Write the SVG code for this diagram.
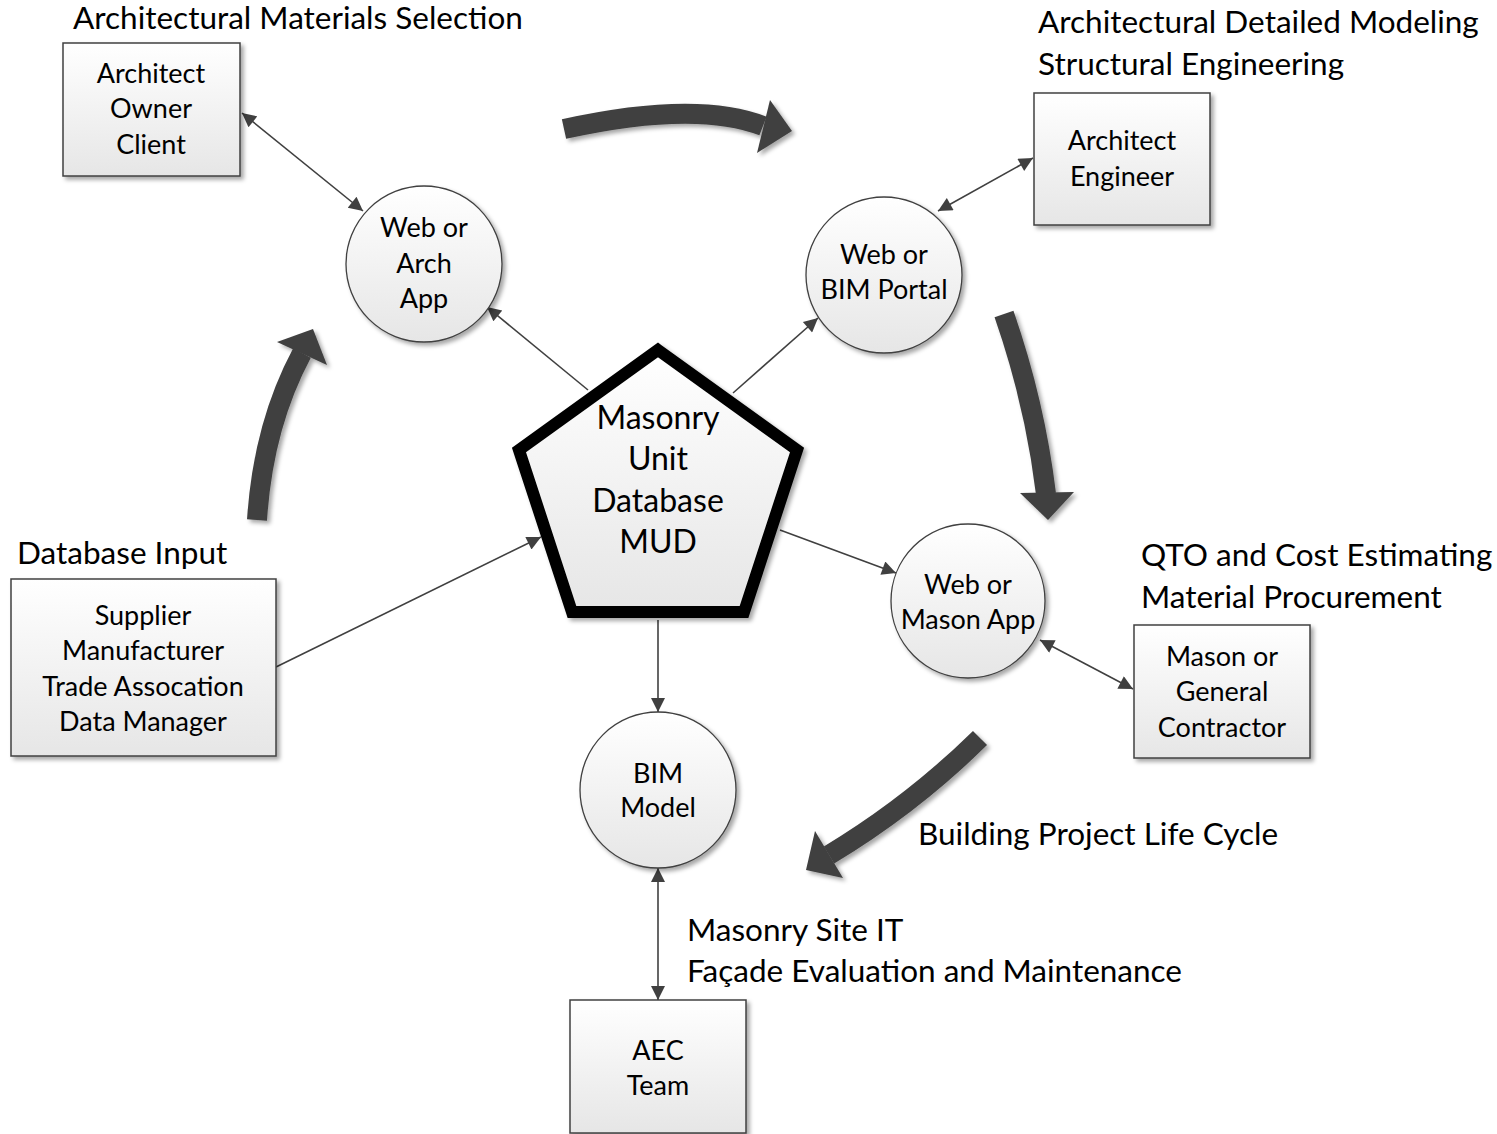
<svg xmlns="http://www.w3.org/2000/svg" width="1497" height="1134" viewBox="0 0 1497 1134">
<defs>
  <linearGradient id="g" x1="0" y1="0" x2="0" y2="1">
    <stop offset="0" stop-color="#ffffff"/>
    <stop offset="1" stop-color="#e6e6e6"/>
  </linearGradient>
  <filter id="sh" x="-20%" y="-20%" width="140%" height="140%">
    <feDropShadow dx="3" dy="3" stdDeviation="2" flood-color="#000" flood-opacity="0.35"/>
  </filter>
  <marker id="ahs" viewBox="0 0 10 10" refX="10" refY="5" markerWidth="16" markerHeight="14" markerUnits="userSpaceOnUse" orient="auto-start-reverse">
    <path d="M0,0 L10,5 L0,10 Z" fill="#404040"/>
  </marker>
</defs>
<style>
  .box{fill:url(#g);stroke:#404040;stroke-width:1.5;filter:url(#sh)}
  .cir{fill:url(#g);stroke:#404040;stroke-width:1.3;filter:url(#sh)}
  .t{font-family:Lato,"Liberation Sans",sans-serif;font-size:27px;fill:#000;text-anchor:middle}
  .pt{font-family:Lato,"Liberation Sans",sans-serif;font-size:32px;fill:#000;text-anchor:middle}
  .h{font-family:Lato,"Liberation Sans",sans-serif;font-size:31.5px;fill:#000}
  .c{stroke:#404040;stroke-width:1.6;fill:none}
  .big path.b{fill:none;stroke:#404040;stroke-width:20}
  .big path.hd{fill:#404040}
</style>

<g id="big-arrows" class="big">
  <g filter="url(#sh)"><path class="b" d="M564,129 Q696,100 763,126"/><path class="hd" d="M770,100 L792,131 L757,153 Z"/></g>
  <g filter="url(#sh)"><path class="b" d="M1004,314 Q1035,403 1046,494"/><path class="hd" d="M1020,493 L1074,492 L1048,520 Z"/></g>
  <g filter="url(#sh)"><path class="b" d="M980,738 Q912,805 829,855"/><path class="hd" d="M815,831 L843,878 L806,870 Z"/></g>
  <g filter="url(#sh)"><path class="b" d="M257,520 Q263,426 302,353"/><path class="hd" d="M277,342 L313,329 L327,365 Z"/></g>
</g>

<g id="connectors">
  <line class="c" x1="242" y1="113" x2="363" y2="211" marker-start="url(#ahs)" marker-end="url(#ahs)"/>
  <line class="c" x1="938" y1="211" x2="1033" y2="158" marker-start="url(#ahs)" marker-end="url(#ahs)"/>
  <line class="c" x1="1040" y1="640" x2="1133" y2="689" marker-start="url(#ahs)" marker-end="url(#ahs)"/>
  <line class="c" x1="658" y1="868" x2="658" y2="1000" marker-start="url(#ahs)" marker-end="url(#ahs)"/>
  <line class="c" x1="588" y1="390" x2="487" y2="307" marker-end="url(#ahs)"/>
  <line class="c" x1="733" y1="393" x2="818" y2="318" marker-end="url(#ahs)"/>
  <line class="c" x1="780" y1="530" x2="896" y2="573" marker-end="url(#ahs)"/>
  <line class="c" x1="658" y1="620" x2="658" y2="712" marker-end="url(#ahs)"/>
  <line class="c" x1="276" y1="667" x2="541" y2="537" marker-end="url(#ahs)"/>
</g>

<g id="mud">
  <path d="M658,350 L797,450 L744,612 L572,612 L519,450 Z" fill="url(#g)" stroke="#000" stroke-width="12" stroke-linejoin="miter" filter="url(#sh)"/>
  <text class="pt" x="658" y="429">Masonry</text>
  <text class="pt" x="658" y="470">Unit</text>
  <text class="pt" x="658" y="512">Database</text>
  <text class="pt" x="658" y="553">MUD</text>
</g>

<g id="box-architect-owner">
  <rect class="box" x="63" y="43" width="177" height="133"/>
  <text class="t" x="151" y="83">Architect</text>
  <text class="t" x="151" y="118">Owner</text>
  <text class="t" x="151" y="154">Client</text>
</g>
<g id="box-architect-engineer">
  <rect class="box" x="1034" y="93" width="176" height="132"/>
  <text class="t" x="1122" y="150">Architect</text>
  <text class="t" x="1122" y="186">Engineer</text>
</g>
<g id="box-supplier">
  <rect class="box" x="11" y="579" width="265" height="177"/>
  <text class="t" x="143" y="625">Supplier</text>
  <text class="t" x="143" y="660">Manufacturer</text>
  <text class="t" x="143" y="696">Trade Assocation</text>
  <text class="t" x="143" y="731">Data Manager</text>
</g>
<g id="box-mason">
  <rect class="box" x="1134" y="625" width="176" height="133"/>
  <text class="t" x="1222" y="666">Mason or</text>
  <text class="t" x="1222" y="701">General</text>
  <text class="t" x="1222" y="737">Contractor</text>
</g>
<g id="box-aec">
  <rect class="box" x="570" y="1000" width="176" height="133"/>
  <text class="t" x="658" y="1060">AEC</text>
  <text class="t" x="658" y="1095">Team</text>
</g>

<g id="c-arch-app">
  <circle class="cir" cx="424" cy="264" r="78"/>
  <text class="t" x="424" y="237">Web or</text>
  <text class="t" x="424" y="273">Arch</text>
  <text class="t" x="424" y="308">App</text>
</g>
<g id="c-bim-portal">
  <circle class="cir" cx="884" cy="275" r="78"/>
  <text class="t" x="884" y="264">Web or</text>
  <text class="t" x="884" y="299">BIM Portal</text>
</g>
<g id="c-mason-app">
  <circle class="cir" cx="968" cy="601" r="77"/>
  <text class="t" x="968" y="594">Web or</text>
  <text class="t" x="968" y="629">Mason App</text>
</g>
<g id="c-bim-model">
  <circle class="cir" cx="658" cy="790" r="78"/>
  <text class="t" x="658" y="783">BIM</text>
  <text class="t" x="658" y="817">Model</text>
</g>

<g id="labels">
  <text class="h" x="73" y="29">Architectural Materials Selection</text>
  <text class="h" x="1038" y="33">Architectural Detailed Modeling</text>
  <text class="h" x="1038" y="75">Structural Engineering</text>
  <text class="h" x="17" y="564">Database Input</text>
  <text class="h" x="1141" y="566">QTO and Cost Estimating</text>
  <text class="h" x="1141" y="608">Material Procurement</text>
  <text class="h" x="918" y="845">Building Project Life Cycle</text>
  <text class="h" x="687" y="941">Masonry Site IT</text>
  <text class="h" x="687" y="982">Façade Evaluation and Maintenance</text>
</g>
</svg>
